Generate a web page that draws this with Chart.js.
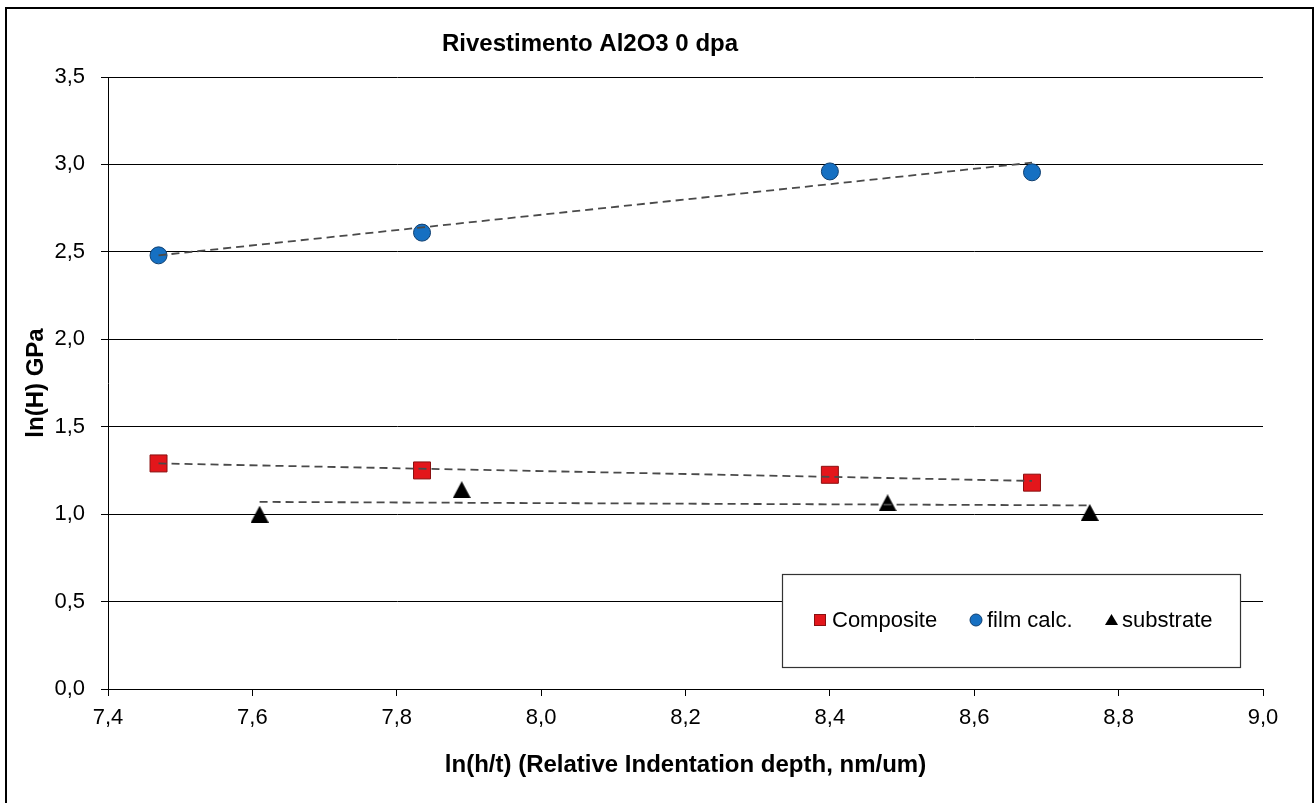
<!DOCTYPE html>
<html>
<head>
<meta charset="utf-8">
<script src="https://cdn.jsdelivr.net/npm/chart.js@4/dist/chart.umd.min.js"></script>
<style>
  html, body { margin: 0; padding: 0; background: #fff; }
  #wrap { position: relative; width: 1315px; height: 803px; }
</style>
</head>
<body>
<div id="wrap"><canvas class="chart" width="1315" height="803"></canvas></div>
<script>
// values
const compositeX = [7.47, 7.835, 8.40, 8.68];
const compositeY = [1.29, 1.25, 1.225, 1.18];
const filmX = [7.47, 7.835, 8.40, 8.68];
const filmY = [2.48, 2.61, 2.96, 2.955];
const substrateX = [7.61, 7.89, 8.48, 8.76];
const substrateY = [1.00, 1.14, 1.065, 1.01];

// trend line end points
const compositeTrendX = [7.47, 8.68];
const compositeTrendY = [1.29, 1.19];
const filmTrendX = [7.47, 8.68];
const filmTrendY = [2.48, 3.01];
const substrateTrendX = [7.61, 8.76];
const substrateTrendY = [1.07, 1.05];

const xTicks = [7.4, 7.6, 7.8, 8.0, 8.2, 8.4, 8.6, 8.8, 9.0];
const yTicks = [0, 0.5, 1.0, 1.5, 2.0, 2.5, 3.0, 3.5];

const seriesNames = ['Composite', 'film calc.', 'substrate'];
const chartTitle = 'Rivestimento Al2O3 0 dpa';

const pts = (xs, ys) => xs.map((x, i) => ({ x: x, y: ys[i] }));
const fmt = v => Number(v).toFixed(1).replace('.', ',');

function triangleImg(w, h) {
    const c = document.createElement('canvas');
    c.width = w; c.height = h;
    const g = c.getContext('2d');
    g.fillStyle = '#000';
    g.beginPath();
    g.moveTo(w / 2, 0);
    g.lineTo(w, h);
    g.lineTo(0, h);
    g.closePath();
    g.fill();
    return c;
}
const triBig = triangleImg(18, 17);

const trendStyle = {
    showLine: true,
    borderColor: '#4a4a4a',
    borderWidth: 1.8,
    borderDash: [8, 5],
    pointRadius: 0,
    fill: false,
    order: 0
};

// own legend box and chart title
const extras = {
    id: 'extras',
    afterDraw(chart) {
        const c = chart.ctx;
        c.save();
        // outer frame
        c.strokeStyle = '#000';
        c.lineWidth = 2;
        c.beginPath();
        c.moveTo(6, 810);
        c.lineTo(6, 8);
        c.lineTo(1313, 8);
        c.lineTo(1313, 810);
        c.stroke();

        c.fillStyle = '#000';
        c.font = 'bold 24px "Liberation Sans", Arial, sans-serif';
        c.textAlign = 'center';
        c.textBaseline = 'middle';
        c.fillText(chartTitle, 590, 44);

        // legend
        c.fillStyle = '#fff';
        c.fillRect(782, 574, 458, 93);
        c.strokeStyle = '#333';
        c.lineWidth = 1.2;
        c.strokeRect(782.5, 574.5, 458, 93);
        const ly = 620;
        c.font = '22px "Liberation Sans", Arial, sans-serif';
        c.textAlign = 'left';
        c.fillStyle = '#e3161b';
        c.fillRect(814, ly - 6, 12, 12);
        c.strokeStyle = '#8a1010';
        c.lineWidth = 1;
        c.strokeRect(814.5, ly - 5.5, 11, 11);
        c.fillStyle = '#000';
        c.fillText(seriesNames[0], 832, ly + 1);

        c.fillStyle = '#1670c2';
        c.beginPath();
        c.arc(976, ly, 6, 0, Math.PI * 2);
        c.fill();
        c.strokeStyle = '#0f3f70';
        c.stroke();
        c.fillStyle = '#000';
        c.fillText(seriesNames[1], 987, ly + 1);

        c.beginPath();
        c.moveTo(1111.5, ly - 6);
        c.lineTo(1118, ly + 5);
        c.lineTo(1105, ly + 5);
        c.closePath();
        c.fill();
        c.fillText(seriesNames[2], 1122, ly + 1);
        c.restore();
    }
};

const ctx = document.querySelector('.chart').getContext('2d');

const chart = new Chart(ctx, {
    type: 'scatter',
    data: {
        datasets: [
            Object.assign({ label: 'Composite trend', data: pts(compositeTrendX, compositeTrendY) }, trendStyle),
            Object.assign({ label: 'film trend', data: pts(filmTrendX, filmTrendY) }, trendStyle),
            Object.assign({ label: 'substrate trend', data: pts(substrateTrendX, substrateTrendY) }, trendStyle),
            {
                label: seriesNames[0],
                data: pts(compositeX, compositeY),
                pointStyle: 'rect',
                pointRadius: 12,
                backgroundColor: '#e3161b',
                borderColor: '#8a1010',
                borderWidth: 1,
                order: 1
            },
            {
                label: seriesNames[1],
                data: pts(filmX, filmY),
                pointStyle: 'circle',
                pointRadius: 8.5,
                backgroundColor: '#1670c2',
                borderColor: '#0f3f70',
                borderWidth: 1,
                order: 1
            },
            {
                label: seriesNames[2],
                data: pts(substrateX, substrateY),
                pointStyle: triBig,
                pointRadius: 9,
                backgroundColor: '#000',
                borderColor: '#000',
                order: 1
            }
        ]
    },
    options: {
        responsive: false,
        animation: false,
        layout: { padding: { left: 0, top: 77, right: 52, bottom: 0 } },
        plugins: {
            legend: { display: false },
            tooltip: { enabled: false }
        },
        scales: {
            x: {
                type: 'linear',
                min: 7.4,
                max: 9.0,
                afterFit: s => { s.height = 114; },
                afterBuildTicks: s => { s.ticks = xTicks.map(v => ({ value: v })); },
                ticks: {
                    callback: v => fmt(v),
                    color: '#000',
                    font: { family: '"Liberation Sans", Arial, sans-serif', size: 22 },
                    padding: 9,
                    maxRotation: 0
                },
                grid: {
                    drawOnChartArea: false,
                    drawTicks: true,
                    tickLength: 7,
                    color: '#000'
                },
                border: { display: true, color: '#000', width: 1 },
                title: {
                    display: true,
                    text: 'ln(h/t) (Relative Indentation depth, nm/um)',
                    color: '#000',
                    font: { family: '"Liberation Sans", Arial, sans-serif', size: 24, weight: 'bold' },
                    padding: { top: 0, bottom: 23 }
                }
            },
            y: {
                type: 'linear',
                min: 0,
                max: 3.5,
                afterFit: s => { s.width = 108; },
                afterBuildTicks: s => { s.ticks = yTicks.map(v => ({ value: v })); },
                ticks: {
                    callback: v => fmt(v),
                    color: '#000',
                    font: { family: '"Liberation Sans", Arial, sans-serif', size: 22 },
                    padding: 16
                },
                grid: {
                    color: '#000',
                    lineWidth: 1,
                    tickLength: 7
                },
                border: { display: true, color: '#000', width: 1 },
                title: {
                    display: true,
                    text: 'ln(H) GPa',
                    color: '#000',
                    font: { family: '"Liberation Sans", Arial, sans-serif', size: 24, weight: 'bold' },
                    padding: { top: 22, bottom: 0 }
                }
            }
        }
    },
    plugins: [extras]
});
</script>
</body>
</html>
